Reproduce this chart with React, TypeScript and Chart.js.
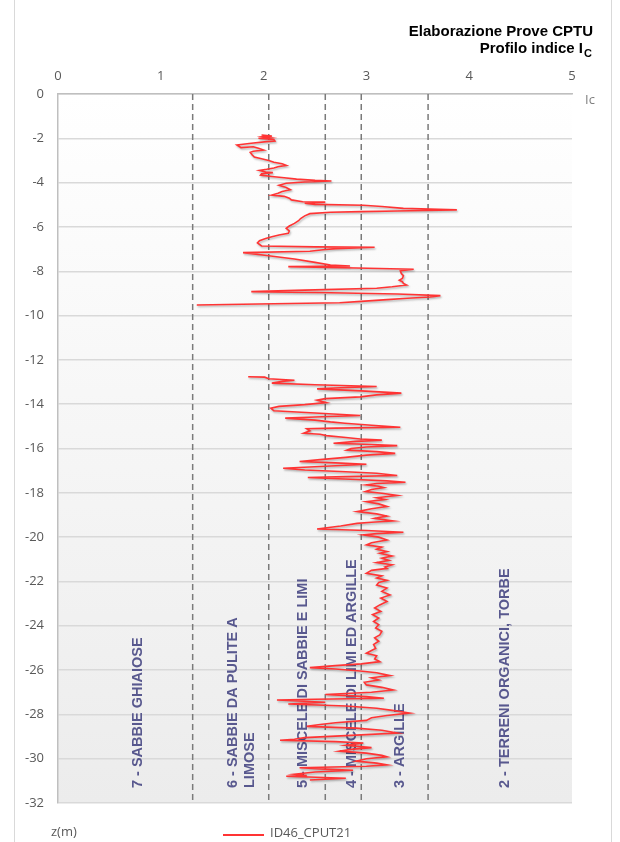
import React, { useEffect, useRef } from "react";
import { Chart, registerables } from "chart.js";

Chart.register(...registerables);

// ---- Data ----
const seriesLabel = "ID46_CPUT21";

// upper tract (depth z in m, Ic)
const depthA = [
  -1.85, -1.9, -1.93, -1.97, -2.0, -2.05, -2.12, -2.15, -2.22, -2.3, -2.36, -2.42, -2.38, -2.45, -2.53, -2.58,
  -2.63, -2.75, -2.85, -2.92, -3.0, -3.08, -3.15, -3.22, -3.28, -3.34, -3.4, -3.45, -3.52, -3.55, -3.6, -3.66,
  -3.72, -3.78, -3.84, -3.9, -3.93, -3.97, -4.03, -4.12, -4.22, -4.32, -4.4, -4.48, -4.56, -4.62, -4.7, -4.78,
  -4.86, -4.88, -4.93, -4.98, -5.02, -5.08, -5.16, -5.2, -5.23, -5.26, -5.28, -5.31, -5.34, -5.4, -5.5, -5.62,
  -5.72, -5.84, -5.96, -6.06, -6.18, -6.29, -6.36, -6.44, -6.52, -6.62, -6.72, -6.86, -6.9, -6.92, -6.98, -7.03,
  -7.1, -7.16, -7.3, -7.45, -7.6, -7.72, -7.76, -7.79, -7.85, -7.91, -7.98, -8.1, -8.2, -8.32, -8.4, -8.47,
  -8.55, -8.62, -8.7, -8.77, -8.85, -8.92, -8.97, -9.03, -9.1, -9.16, -9.22, -9.28, -9.36, -9.42, -9.47, -9.52,
];
const icA = [
  1.98, 2.08, 2.0, 2.06, 1.95, 2.1, 2.11, 2.03, 1.88, 1.74, 1.76, 1.78, 1.9, 1.95, 2.0, 1.9,
  1.87, 1.89, 1.91, 1.98, 2.05, 2.1, 2.18, 2.22, 2.14, 2.1, 2.03, 1.96, 2.02, 2.09, 1.98, 1.97,
  2.08, 2.2, 2.32, 2.5, 2.66, 2.4, 2.22, 2.15, 2.22, 2.26, 2.18, 2.14, 2.08, 2.2, 2.25, 2.27,
  2.38, 2.6, 2.4, 2.5, 2.97, 3.15, 3.36, 3.7, 3.88, 3.55, 3.3, 2.95, 2.65, 2.45, 2.4, 2.36,
  2.34, 2.3, 2.25, 2.22, 2.25, 2.24, 2.15, 2.08, 2.02, 1.96, 1.94, 1.98, 2.5, 3.08, 2.7, 2.58,
  2.45, 1.8, 2.05, 2.3, 2.5, 2.65, 2.84, 2.24, 2.9, 3.46, 3.33, 3.34, 3.36, 3.35, 3.32, 3.35,
  3.36, 3.39, 3.25, 3.1, 2.4, 1.88, 2.65, 3.3, 3.72, 3.62, 3.4, 3.2, 2.95, 2.74, 2.1, 1.35,
];

// lower tract
const depthB = [
  -12.76, -12.78, -12.85, -12.92, -12.96, -13.05, -13.12, -13.2, -13.26, -13.31, -13.4, -13.5, -13.58, -13.67, -13.75, -13.82,
  -13.93, -14.02, -14.1, -14.18, -14.3, -14.4, -14.51, -14.58, -14.63, -14.72, -14.8, -14.86, -14.95, -15.04, -15.08, -15.11,
  -15.2, -15.31, -15.36, -15.42, -15.5, -15.57, -15.62, -15.68, -15.76, -15.82, -15.87, -15.93, -16.0, -16.07, -16.14, -16.22,
  -16.3, -16.4, -16.5, -16.59, -16.65, -16.71, -16.8, -16.89, -16.97, -17.05, -17.12, -17.22, -17.27, -17.31, -17.4, -17.46,
  -17.52, -17.58, -17.64, -17.7, -17.76, -17.85, -17.94, -18.02, -18.12, -18.22, -18.3, -18.4, -18.5, -18.62, -18.72, -18.85,
  -18.95, -19.05, -19.15, -19.27, -19.33, -19.38, -19.5, -19.63, -19.7, -19.78, -19.84, -19.9, -20.0, -20.13, -20.25, -20.35,
  -20.45, -20.55, -20.65, -20.73, -20.85, -20.95, -21.05, -21.15, -21.25, -21.35, -21.41, -21.5, -21.63, -21.75, -21.85, -21.95,
  -22.05, -22.16, -22.3, -22.45, -22.61, -22.75, -22.9, -23.06, -23.2, -23.35, -23.5, -23.65, -23.81, -23.95, -24.1, -24.25,
  -24.41, -24.55, -24.7, -24.85, -25.02, -25.12, -25.24, -25.35, -25.5, -25.62, -25.72, -25.8, -25.89, -25.95, -26.04, -26.12,
  -26.25, -26.35, -26.45, -26.55, -26.67, -26.78, -26.9, -27.0, -27.1, -27.2, -27.27, -27.32, -27.35, -27.45, -27.53, -27.62,
  -27.72, -27.82, -27.94, -28.05, -28.15, -28.27, -28.38, -28.46, -28.54, -28.62, -28.72, -28.84, -28.95, -29.05, -29.12, -29.17,
  -29.23, -29.29, -29.4, -29.5, -29.58, -29.66, -29.75, -29.85, -29.92, -30.0, -30.11, -30.2, -30.28, -30.34, -30.41, -30.47,
  -30.52, -30.6, -30.7, -30.76, -30.79, -30.88, -30.96,
];
const icB = [
  1.85, 2.01, 2.05, 2.3, 2.2, 2.08, 2.5, 3.1, 2.75, 2.52, 2.95, 3.34, 3.1, 2.94, 2.6, 2.52,
  2.61, 2.4, 2.15, 2.07, 2.1, 2.5, 2.94, 2.5, 2.21, 2.5, 2.65, 2.79, 3.05, 3.33, 2.7, 2.42,
  2.45, 2.39, 2.55, 2.61, 2.8, 2.94, 3.15, 2.9, 2.68, 3.05, 3.3, 3.0, 2.85, 2.81, 3.1, 3.28,
  3.0, 2.8, 2.55, 2.35, 2.7, 3.0, 2.6, 2.19, 2.4, 2.8, 3.1, 3.3, 2.8, 2.43, 2.9, 3.2,
  3.38, 3.1, 3.0, 3.12, 3.17, 3.05, 2.99, 3.15, 3.3, 3.1, 3.18, 3.0, 3.12, 3.2, 3.05, 2.91,
  3.1, 3.2, 3.08, 3.26, 3.05, 2.91, 2.75, 2.52, 3.0, 3.36, 3.1, 2.97, 3.12, 3.2, 3.05, 3.0,
  3.15, 3.1, 3.2, 3.13, 3.25, 3.15, 3.22, 3.1, 3.25, 3.18, 3.2, 3.05, 3.0, 3.15, 3.1, 3.2,
  3.12, 3.1, 3.2, 3.15, 3.23, 3.14, 3.2, 3.13, 3.08, 3.14, 3.06, 3.12, 3.07, 3.12, 3.09, 3.15,
  3.13, 3.08, 3.12, 3.07, 3.09, 3.05, 3.0, 3.1, 3.08, 3.13, 2.95, 2.7, 2.45, 2.7, 2.94, 3.1,
  3.23, 3.05, 3.12, 2.98, 3.0, 3.15, 3.26, 3.05, 2.6, 3.0, 3.17, 2.5, 2.13, 2.6, 2.24, 2.8,
  3.1, 3.25, 3.42, 3.2, 3.05, 3.0, 2.7, 2.55, 2.42, 2.9, 3.15, 3.3, 2.85, 2.4, 2.3, 2.16,
  2.7, 2.97, 2.8, 3.05, 2.85, 2.74, 3.0, 3.15, 3.2, 3.0, 2.9, 3.1, 3.2, 3.0, 2.35, 2.6,
  2.87, 2.5, 2.3, 2.42, 2.22, 2.8, 2.45,
];

// Robertson soil behaviour type boundaries (Ic)
const zoneBoundaries = [1.31, 2.05, 2.6, 2.95, 3.6];
const zoneLabels: string[][] = [
  ["7 - SABBIE GHIAIOSE"],
  ["6 - SABBIE DA PULITE A", "LIMOSE"],
  ["5 - MISCELE DI SABBIE E LIMI"],
  ["4 - MISCELE DI LIMI ED ARGILLE"],
  ["3 - ARGILLE"],
  ["2 - TERRENI ORGANICI, TORBE"],
];
const zoneLabelIc = [0.78, 1.785, 2.38, 2.86, 3.33, 4.35];

const xMin = 0, xMax = 5, xStep = 1;
const yMin = -32, yMax = 0, yStep = 2;

const titleLine1 = "Elaborazione Prove CPTU";
const titleLine2 = "Profilo indice I";
const titleSub = "C";
const xAxisTitle = "Ic";
const yAxisTitle = "z(m)";

const RED = "rgb(255,52,52)";
const TICK_FONT = "'Open Sans', 'Liberation Sans', sans-serif";
const BOLD_FONT = "'Liberation Sans', Arial, sans-serif";

export default function App() {
  const ref = useRef<HTMLCanvasElement | null>(null);

  useEffect(() => {
    const canvas = ref.current;
    if (!canvas) return;

    const toPts = (zs: number[], ics: number[]) => zs.map((z, i) => ({ x: ics[i], y: z }));

    const decor = {
      id: "decor",
      beforeDraw(chart: any) {
        const { ctx, chartArea: a } = chart;
        ctx.save();
        ctx.fillStyle = "#ffffff";
        ctx.fillRect(0, 0, chart.width, chart.height);
        const g = ctx.createLinearGradient(0, a.top, 0, a.bottom);
        g.addColorStop(0, "#ffffff");
        g.addColorStop(1, "#ececec");
        ctx.fillStyle = g;
        ctx.fillRect(a.left, a.top, a.right - a.left, a.bottom - a.top);
        ctx.strokeStyle = "#d9d9d9";
        ctx.lineWidth = 1;
        ctx.beginPath();
        ctx.moveTo(14.5, 0);
        ctx.lineTo(14.5, chart.height);
        ctx.moveTo(611.5, 0);
        ctx.lineTo(611.5, chart.height);
        ctx.stroke();
        ctx.restore();
      },
      beforeDatasetsDraw(chart: any) {
        const { ctx, chartArea: a, scales } = chart;
        ctx.save();
        ctx.fillStyle = "#58588e";
        ctx.font = `bold 14.5px ${BOLD_FONT}`;
        ctx.textAlign = "left";
        ctx.textBaseline = "middle";
        zoneLabels.forEach((lines, i) => {
          const cx = scales.x.getPixelForValue(zoneLabelIc[i]);
          const lh = 17;
          const n = lines.length;
          lines.forEach((t, j) => {
            const x = cx + (j - (n - 1) / 2) * lh;
            ctx.save();
            ctx.translate(x, a.bottom - 15);
            ctx.rotate(-Math.PI / 2);
            ctx.fillText(t, 0, 0);
            ctx.restore();
          });
        });
        ctx.restore();
      },
      beforeDatasetDraw(chart: any, args: any) {
        const ds = chart.data.datasets[args.index];
        if (ds.isSeries) {
          chart.ctx.save();
          chart.ctx.shadowColor = "rgba(0,0,0,0.28)";
          chart.ctx.shadowBlur = 2;
          chart.ctx.shadowOffsetX = 1;
          chart.ctx.shadowOffsetY = 1.5;
        }
      },
      afterDatasetDraw(chart: any, args: any) {
        const ds = chart.data.datasets[args.index];
        if (ds.isSeries) chart.ctx.restore();
      },
      afterDraw(chart: any) {
        const { ctx, chartArea: a } = chart;
        ctx.save();
        // title
        ctx.fillStyle = "#000000";
        ctx.textAlign = "right";
        ctx.textBaseline = "middle";
        ctx.font = `bold 15px ${BOLD_FONT}`;
        ctx.fillText(titleLine1, 593, 32);
        ctx.fillText(titleLine2, 583, 49);
        ctx.font = `bold 11px ${BOLD_FONT}`;
        ctx.textAlign = "left";
        ctx.fillText(titleSub, 584, 54);
        // axis titles
        ctx.font = `13px ${TICK_FONT}`;
        ctx.fillStyle = "#7f7f7f";
        ctx.textAlign = "left";
        ctx.fillText(xAxisTitle, a.right + 13, a.top + 6);
        ctx.fillStyle = "#595959";
        ctx.fillText(yAxisTitle, 51, 832);
        // legend
        ctx.strokeStyle = RED;
        ctx.lineWidth = 2;
        ctx.beginPath();
        ctx.moveTo(223, 835);
        ctx.lineTo(264, 835);
        ctx.stroke();
        ctx.fillStyle = "#595959";
        ctx.fillText(seriesLabel, 270, 833);
        ctx.restore();
      },
    };

    const seriesStyle = {
      showLine: true,
      borderColor: RED,
      backgroundColor: RED,
      borderWidth: 1.6,
      pointRadius: 0,
      tension: 0,
      order: 0,
      isSeries: true,
    };

    const zoneDatasets = zoneBoundaries.map((b) => ({
      label: "zone",
      data: [{ x: b, y: yMax }, { x: b, y: yMin }],
      showLine: true,
      borderColor: "#7a7a7a",
      borderWidth: 1.5,
      borderDash: [6, 4],
      pointRadius: 0,
      order: 1,
    }));

    const chart = new Chart(canvas, {
      type: "scatter",
      data: {
        datasets: [
          { label: seriesLabel, data: toPts(depthA, icA), ...seriesStyle } as any,
          { label: seriesLabel + "_b", data: toPts(depthB, icB), ...seriesStyle } as any,
          ...(zoneDatasets as any),
        ],
      },
      options: {
        animation: false,
        responsive: false,
        maintainAspectRatio: false,
        layout: { padding: { left: 0, top: 0, right: 48, bottom: 39 } },
        plugins: { legend: { display: false }, tooltip: { enabled: false }, title: { display: false } },
        scales: {
          x: {
            type: "linear",
            position: "top",
            min: xMin,
            max: xMax,
            ticks: { stepSize: xStep, color: "#595959", font: { family: TICK_FONT, size: 13 }, padding: 10 },
            grid: { display: false, drawTicks: false },
            border: { display: true, color: "#bfbfbf", width: 1.5 },
            afterFit: (s: any) => { s.height = 94; },
          },
          y: {
            type: "linear",
            min: yMin,
            max: yMax,
            ticks: { stepSize: yStep, color: "#595959", font: { family: TICK_FONT, size: 13 }, padding: 14 },
            grid: { color: "#d9d9d9", lineWidth: 1.5, drawTicks: false },
            border: { display: true, color: "#bfbfbf", width: 1.5 },
            afterFit: (s: any) => { s.width = 58; },
          },
        },
      } as any,
      plugins: [decor],
    });

    return () => chart.destroy();
  }, []);

  return (
    <div style={{ position: "fixed", left: 0, top: 0, width: 620, height: 842, background: "#fff" }}>
      <canvas ref={ref} width={620} height={842} style={{ display: "block", width: 620, height: 842 }} />
    </div>
  );
}
